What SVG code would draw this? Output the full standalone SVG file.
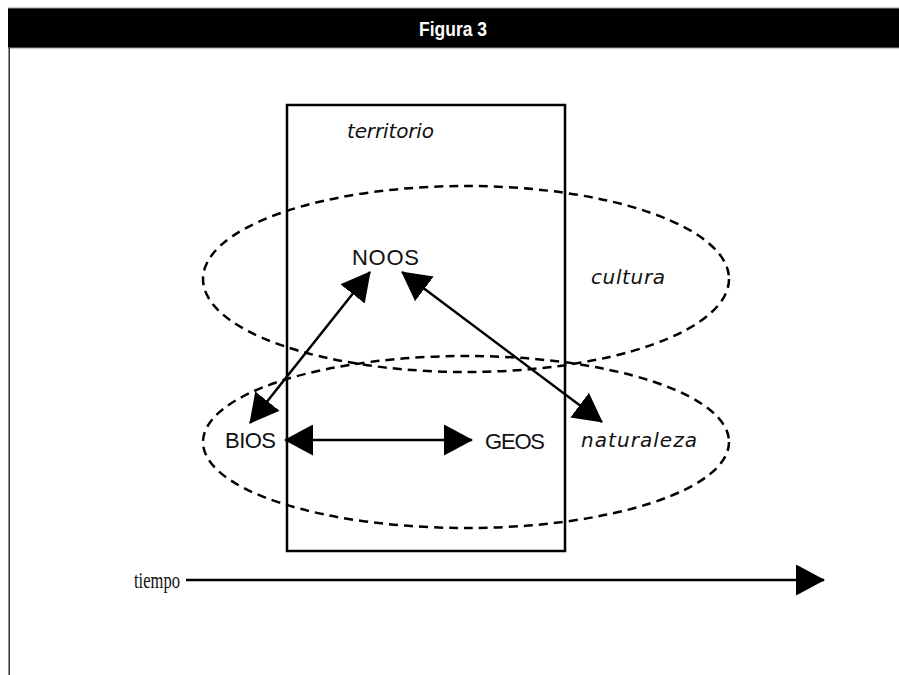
<svg xmlns="http://www.w3.org/2000/svg" width="899" height="675" viewBox="0 0 899 675">
  <style>
    .lbl { font-family: "Liberation Sans", Arial, sans-serif; font-size: 22px; fill: #111; }
    .it { font-family: "DejaVu Sans", "Liberation Sans", sans-serif; font-style: italic; font-size: 20px; fill: #111; }
    .ser { font-family: "Liberation Serif", "Times New Roman", serif; font-size: 23px; fill: #111; }
    .title { font-family: "Liberation Sans", Arial, sans-serif; font-weight: bold; font-size: 21px; fill: #fff; }
    .dash { fill: none; stroke: #000; stroke-width: 2.5; stroke-dasharray: 9 6; }
    .con { fill: none; stroke: #000; stroke-width: 2.5; }
  </style>
  <defs>
    <marker id="head" viewBox="0 0 29 31" refX="28" refY="15.5" markerWidth="29" markerHeight="31" markerUnits="userSpaceOnUse" orient="auto-start-reverse">
      <path d="M0,0 L29,15.5 L0,31 Z" fill="#000"/>
    </marker>
  </defs>
  <rect width="899" height="675" fill="#fff"/>

  <!-- header bar -->
  <g id="header">
    <rect x="8" y="8" width="891" height="40" fill="#000"/>
    <line x1="8" y1="8" x2="899" y2="8" stroke="#999" stroke-width="1"/>
    <line x1="8" y1="48" x2="899" y2="48" stroke="#999" stroke-width="1"/>
    <line x1="9.2" y1="48" x2="9.2" y2="675" stroke="#333" stroke-width="1.5"/>
    <text class="title" x="419" y="36" textLength="68" lengthAdjust="spacingAndGlyphs">Figura 3</text>
  </g>

  <!-- territorio -->
  <g id="territorio">
    <rect x="287" y="105" width="278" height="446" fill="none" stroke="#000" stroke-width="2.5"/>
    <text class="it" x="347" y="138" textLength="87">territorio</text>
  </g>

  <!-- cultura -->
  <g id="cultura">
    <ellipse cx="466" cy="279" rx="263" ry="93" class="dash"/>
    <text class="it" x="591" y="284" textLength="74">cultura</text>
  </g>

  <!-- naturaleza -->
  <g id="naturaleza">
    <ellipse cx="466" cy="442" rx="263" ry="86" class="dash"/>
    <text class="it" x="581" y="447" textLength="116">naturaleza</text>
  </g>

  <g id="noos"><text class="lbl" x="352" y="265" textLength="67">NOOS</text></g>
  <g id="bios"><text class="lbl" x="225" y="448" textLength="51">BIOS</text></g>
  <g id="geos"><text class="lbl" x="485" y="449" textLength="60">GEOS</text></g>
  <g id="tiempo"><text class="ser" x="134" y="588" textLength="46" lengthAdjust="spacingAndGlyphs">tiempo</text></g>

  <!-- connectors -->
  <g id="connectors">
    <line class="con" x1="250" y1="423" x2="370" y2="272" marker-start="url(#head)" marker-end="url(#head)"/>
    <line class="con" x1="402" y1="272" x2="602" y2="422" marker-start="url(#head)" marker-end="url(#head)"/>
    <line class="con" x1="285" y1="440" x2="472" y2="440" marker-start="url(#head)" marker-end="url(#head)"/>
    <line class="con" x1="186" y1="580" x2="824" y2="580" marker-end="url(#head)"/>
  </g>
</svg>
